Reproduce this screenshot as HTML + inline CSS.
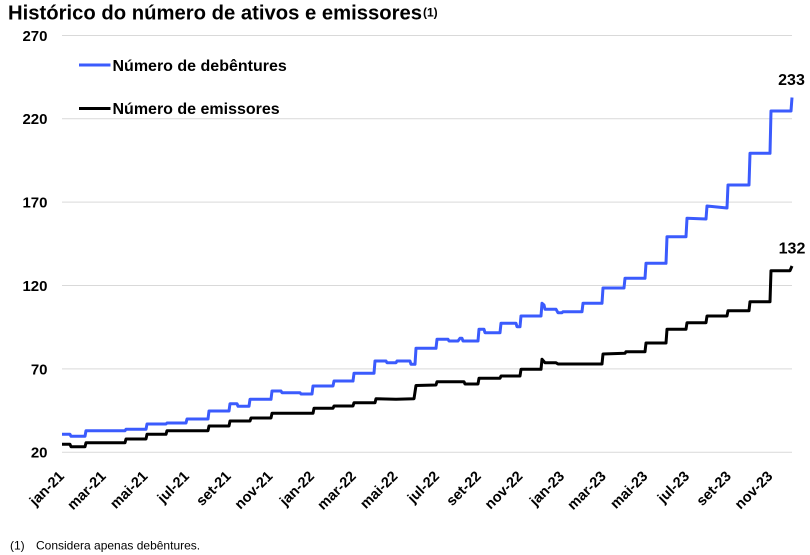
<!DOCTYPE html>
<html>
<head>
<meta charset="utf-8">
<style>
  html,body{margin:0;padding:0;background:#fff;}
  svg{display:block;}
  text{font-family:"Liberation Sans",Arial,sans-serif;fill:#000;}
</style>
</head>
<body>
<svg width="810" height="555" viewBox="0 0 810 555" xmlns="http://www.w3.org/2000/svg">
  <!-- Title -->
  <text x="8" y="19.5" font-size="20" font-weight="bold" textLength="414" lengthAdjust="spacingAndGlyphs">Histórico do número de ativos e emissores</text>
  <text x="423" y="16.5" font-size="12" font-weight="bold">(1)</text>

  <!-- Gridlines -->
  <g stroke="#d9d9d9" stroke-width="1">
    <line x1="62" y1="35.5" x2="792" y2="35.5"/>
    <line x1="62" y1="118.7" x2="792" y2="118.7"/>
    <line x1="62" y1="202.1" x2="792" y2="202.1"/>
    <line x1="62" y1="285.5" x2="792" y2="285.5"/>
    <line x1="62" y1="368.9" x2="792" y2="368.9"/>
    <line x1="62" y1="452.3" x2="792" y2="452.3"/>
  </g>

  <!-- Y labels -->
  <g font-size="15" font-weight="bold" text-anchor="end">
    <text x="47.5" y="41">270</text>
    <text x="47.5" y="124.2">220</text>
    <text x="47.5" y="207.6">170</text>
    <text x="47.5" y="291">120</text>
    <text x="47.5" y="374.4">70</text>
    <text x="47.5" y="457.6">20</text>
  </g>

  <!-- Legend -->
  <line x1="79" y1="65" x2="110.5" y2="65" stroke="#3b5bfd" stroke-width="3"/>
  <text x="112.5" y="71" font-size="16" font-weight="bold">Número de debêntures</text>
  <line x1="79" y1="108.5" x2="110.5" y2="108.5" stroke="#000" stroke-width="3"/>
  <text x="112.5" y="114" font-size="16" font-weight="bold">Número de emissores</text>

  <!-- Blue series -->
  <polyline fill="none" stroke="#3b5bfd" stroke-width="3" stroke-linejoin="round" points="
    62,434.3 70,434.3 71,436.3 85,436.3 86,430.7 125,430.7 126,429.3 146,429.3 147,424 166,424 167,423 186,423
    187,419 208,419 209,411 229,411 230,403.7 237,403.7 238,406.3 249,406.3 250,399.3 271,399.3 272,391 281,391
    282,392.7 300,392.7 301,394 312,394 313,386 333,386 334,381 353,381 354,373.3 374,373.3 375,361 386,361
    387,362.7 396,362.7 397,361 410,361 411,364.3 415,364.3 416,348.3 436,348.3 437,339.3 448,339.3 449,341 458,341
    460,338.3 462,338.3 463,341 478,341 479,329.3 484,329.3 485,332.7 500,332.7 501,323.3 516,323.3 517,326.7 520,326.7
    521,316 541,316 542,303.3 544,305 545,309.3 556,309.3 558,312.7 562,312.7 563,311.7 582,311.7 583,303.3 602,303.3
    603,288 624,288 625,278.3 645,278.3 646,263.3 666,263.3 667,236.7 686,236.7 687,218.3 706,219 707,206 727,208
    728,185 749,185 750,153.3 770,153.3 771,111 791,111 792,97.5"/>

  <!-- Black series -->
  <polyline fill="none" stroke="#000" stroke-width="3" stroke-linejoin="round" points="
    62,444.3 70,444.3 71,446.7 85,446.7 86,442.7 125,442.7 126,439 146,439 147,434.3 166,434.3 167,430.7 208,430.7
    209,426 229,426 230,421 250,421 251,418 271,418 272,413.3 313,413.3 314,408.3 333,408.3 334,406 353,406
    354,402.7 375,402.7 376,398.7 396,399.3 414,398.7 416,385.5 436,385 437,381.7 464,381.7 465,384 478,384
    479,378.3 500,378.3 501,376 520,376 521,369.3 541,369.3 542,359.3 545,362.7 556,362.7 558,364 602,364
    603,354 625,353.3 626,351.7 645,351.7 646,343 666,343 667,329.3 686,329.3 687,322.7 706,322.7 707,316 727,316
    728,310.7 749,310.7 750,301.7 770,301.7 771,270.7 790,270.7 792,266"/>

  <!-- Data labels -->
  <text x="791.5" y="85" font-size="16" font-weight="bold" text-anchor="middle">233</text>
  <text x="792" y="253.3" font-size="16" font-weight="bold" text-anchor="middle">132</text>

  <!-- X labels -->
  <g font-size="14.5" font-weight="bold" text-anchor="end">
    <text transform="translate(65,477) rotate(-45)">jan-21</text>
    <text transform="translate(106.7,477) rotate(-45)">mar-21</text>
    <text transform="translate(148.4,477) rotate(-45)">mai-21</text>
    <text transform="translate(190,477) rotate(-45)">jul-21</text>
    <text transform="translate(231.7,477) rotate(-45)">set-21</text>
    <text transform="translate(273.4,477) rotate(-45)">nov-21</text>
    <text transform="translate(315.1,477) rotate(-45)">jan-22</text>
    <text transform="translate(356.8,477) rotate(-45)">mar-22</text>
    <text transform="translate(398.4,477) rotate(-45)">mai-22</text>
    <text transform="translate(440.1,477) rotate(-45)">jul-22</text>
    <text transform="translate(481.8,477) rotate(-45)">set-22</text>
    <text transform="translate(523.5,477) rotate(-45)">nov-22</text>
    <text transform="translate(565.2,477) rotate(-45)">jan-23</text>
    <text transform="translate(606.8,477) rotate(-45)">mar-23</text>
    <text transform="translate(648.5,477) rotate(-45)">mai-23</text>
    <text transform="translate(690.2,477) rotate(-45)">jul-23</text>
    <text transform="translate(731.9,477) rotate(-45)">set-23</text>
    <text transform="translate(773.5,477) rotate(-45)">nov-23</text>
  </g>

  <!-- Footnote -->
  <text x="10" y="549.5" font-size="12">(1)</text>
  <text x="36" y="549.5" font-size="12">Considera apenas debêntures.</text>
</svg>
</body>
</html>
